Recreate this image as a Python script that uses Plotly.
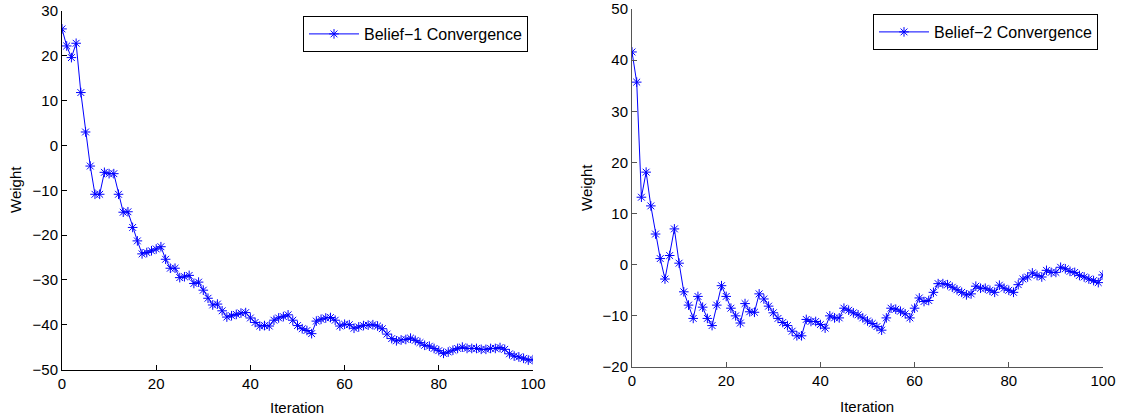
import plotly.graph_objects as go

iterations = list(range(101))

belief1 = [26.0, 22.2, 19.6, 22.8, 11.8, 3.0, -4.6, -10.9, -10.9, -6.0,
           -6.3, -6.3, -10.9, -14.9, -14.8, -18.3, -21.3, -24.2, -23.9, -23.5,
           -23.1, -22.6, -25.4, -27.4, -27.4, -29.5, -29.3, -29.0, -30.8, -30.5,
           -32.3, -34.1, -35.6, -35.4, -36.9, -38.3, -38.0, -37.7, -37.4, -37.3,
           -38.5, -39.5, -40.3, -40.2, -40.3, -39.0, -38.5, -38.2, -37.8, -39.0,
           -40.2, -40.9, -41.3, -42.0, -39.2, -38.8, -38.5, -38.4, -39.0, -40.3,
           -39.9, -40.0, -40.8, -40.5, -40.2, -40.1, -40.0, -40.3, -40.9, -42.1,
           -43.1, -43.6, -43.4, -43.3, -43.0, -43.5, -44.0, -44.6, -44.8, -45.3,
           -45.8, -46.4, -46.1, -45.7, -45.3, -45.0, -45.3, -45.3, -45.3, -45.5,
           -45.5, -45.3, -45.3, -45.1, -45.5, -46.5, -47.0, -47.2, -47.5, -47.9,
           -47.8]

belief2 = [41.6, 35.7, 13.2, 18.1, 11.5, 6.0, 1.2, -2.8, 1.8, 7.0,
           0.3, -5.3, -7.9, -10.5, -6.2, -8.3, -10.5, -11.9, -7.9, -4.1,
           -6.2, -8.5, -10.0, -11.4, -7.6, -9.2, -9.3, -5.7, -6.7, -8.1,
           -9.4, -10.5, -11.3, -11.9, -13.0, -13.9, -13.9, -10.7, -11.1, -11.1,
           -11.7, -12.4, -10.0, -10.4, -10.4, -8.5, -8.9, -9.4, -9.8, -10.4,
           -11.0, -11.5, -12.1, -12.8, -10.4, -8.5, -8.7, -9.1, -9.6, -10.4,
           -8.5, -6.5, -7.2, -7.0, -5.4, -3.7, -3.7, -3.9, -4.4, -4.9,
           -5.4, -5.9, -5.7, -4.2, -4.6, -4.6, -5.0, -5.4, -4.0, -4.6,
           -5.0, -5.4, -3.9, -2.8, -2.4, -1.6, -2.1, -2.4, -1.1, -1.5,
           -1.5, -0.5, -0.8, -1.3, -1.5, -2.1, -2.4, -2.8, -3.1, -3.5,
           -2.0]

x_ticks = [0, 20, 40, 60, 80, 100]
y1_ticks = [-50, -40, -30, -20, -10, 0, 10, 20, 30]
y2_ticks = [-20, -10, 0, 10, 20, 30, 40, 50]

W, H = 1122, 419
FONT = "Liberation Sans, Arial, Helvetica, sans-serif"
FS = 15
LFS = 16
BLUE = "#0000ff"

fig = go.Figure()

marker = dict(symbol="asterisk-open", size=8, color=BLUE, line=dict(color=BLUE, width=1))

fig.add_trace(go.Scatter(x=iterations, y=belief1, mode="lines+markers",
                         name="Belief\u22121 Convergence",
                         line=dict(color=BLUE, width=1), marker=marker,
                         xaxis="x", yaxis="y", legend="legend"))
fig.add_trace(go.Scatter(x=iterations, y=belief2, mode="lines+markers",
                         name="Belief\u22122 Convergence",
                         line=dict(color=BLUE, width=1), marker=marker,
                         xaxis="x2", yaxis="y2", legend="legend2"))

def px_x(p):
    return p / W

def px_y(p):
    return 1 - p / H

axis_common = dict(showgrid=False, zeroline=False, showline=True, ticks="inside",
                   ticklen=5, tickfont=dict(family=FONT, size=FS, color="black"),
                   ticklabeloverflow="allow", automargin=False)

legend_common = dict(xanchor="left", yanchor="top", bgcolor="white",
                     bordercolor="black", borderwidth=1, itemwidth=50,
                     font=dict(family=FONT, size=LFS, color="black"))

fig.update_layout(
    width=W, height=H,
    margin=dict(l=0, r=0, t=0, b=0),
    paper_bgcolor="white", plot_bgcolor="white",
    font=dict(family=FONT, size=FS, color="black"),
    xaxis=dict(domain=[px_x(62), px_x(533)], range=[0, 100], tickvals=x_ticks,
               anchor="y", linecolor="black", tickcolor="black", **axis_common),
    yaxis=dict(domain=[px_y(369.5), px_y(11)], range=[-50, 30], tickvals=y1_ticks,
               anchor="x", linecolor="black", tickcolor="black", **axis_common),
    xaxis2=dict(domain=[px_x(632), px_x(1103)], range=[0, 100], tickvals=x_ticks,
                anchor="y2", linecolor="#555555", tickcolor="#555555", **axis_common),
    yaxis2=dict(domain=[px_y(367), px_y(9)], range=[-20, 50], tickvals=y2_ticks,
                anchor="x2", linecolor="#555555", tickcolor="#555555", **axis_common),
    legend=dict(x=px_x(303), y=px_y(16), **legend_common),
    legend2=dict(x=px_x(873), y=px_y(14), **legend_common),
    showlegend=True,
)

ann_common = dict(xref="paper", yref="paper", showarrow=False,
                  xanchor="center", yanchor="middle",
                  font=dict(family=FONT, size=FS, color="black"))
annotations = [
    dict(text="Iteration", x=px_x(297), y=px_y(407), **ann_common),
    dict(text="Iteration", x=px_x(867), y=px_y(406), **ann_common),
    dict(text="Weight", x=px_x(15), y=px_y(190), textangle=-90, **ann_common),
    dict(text="Weight", x=px_x(586), y=px_y(188), textangle=-90, **ann_common),
]
fig.update_layout(annotations=annotations)

fig.write_html("out.html",
               config={"displayModeBar": False},
               post_script="document.body.style.margin='0';document.body.style.overflow='hidden';")
